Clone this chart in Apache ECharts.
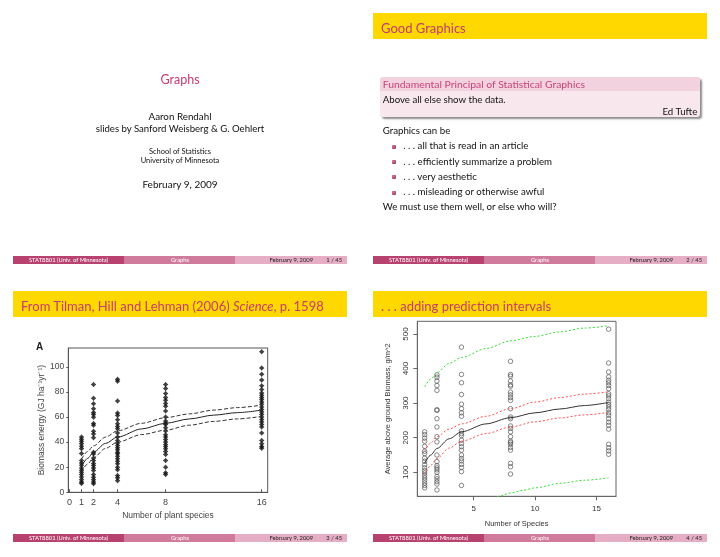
<!DOCTYPE html>
<html><head><meta charset="utf-8">
<script src="https://cdn.jsdelivr.net/npm/echarts@6/dist/echarts.min.js"></script>
<style>
html,body{margin:0;padding:0;background:#fff;}
#wrap{position:relative;width:720px;height:557px;overflow:hidden;font-family:Lato,'Noto Sans',sans-serif;}
.r{position:absolute;}
.t{position:absolute;white-space:nowrap;line-height:1;z-index:3;}
#chart{position:absolute;left:0;top:0;width:720px;height:557px;z-index:2;}
</style></head><body>
<div id="wrap"><div id="chart"></div></div>
<script>
// ---------- Slide 3: Tilman, Hill and Lehman (2006) ----------
const s3Species = [1, 2, 4, 8, 16];
const s3TickX = [0, 1, 2, 4, 8, 16];
const s3TickY = [0, 20, 40, 60, 80, 100];
const s3Y1  = [44, 42.3, 40.7, 38.8, 36.7, 34.8, 31, 25.3, 23.4, 21.5, 19.4, 17.6, 16, 14.1, 12.2, 10.1, 8.2, 7];
const s3Y2  = [85.9, 75, 70.5, 66.5, 63.5, 62, 59.8, 54.8, 53.5, 48.7, 46.5, 43.4, 32, 30.5, 27.4, 25.3, 23, 21.3, 19.4, 17.3, 14.1, 12, 10.1, 8.2, 6.8];
const s3Y4  = [90, 88.5, 72.8, 63.2, 61.3, 57.9, 54.7, 52.5, 50.7, 47.2, 44, 41.3, 39.2, 37.3, 35.5, 33.9, 32, 30.7, 28.8, 26.7, 24.8, 22.7, 20, 17.9, 13.3, 11.5, 9.3];
const s3Y8  = [85.9, 82.7, 78.7, 75.5, 73.3, 70.7, 68.5, 64.8, 60, 56.8, 55.2, 54.1, 51.5, 48.8, 45.9, 44, 42.1, 40, 38.1, 36.5, 34.7, 32.5, 30.1, 25.3, 20, 15.5, 14.2];
const s3Y16 = [112, 99, 94, 89.4, 85, 82, 79.2, 77.3, 75.5, 73.9, 72, 70.1, 68, 65.9, 64, 62.1, 60, 58.1, 56, 54.1, 52, 47.2, 41.3, 38.7, 36.5, 35.2];
const s3CurveX = [1, 1.5, 2, 3, 4, 6, 8, 10, 12, 14, 16];
const s3Fit    = [20.5, 27, 32, 39, 44, 50.5, 55, 58.5, 61.5, 63.5, 65.5];
const s3Upper  = [26.5, 32.5, 37, 44, 49, 55, 59.5, 62.5, 65.5, 67.5, 69.5];
const s3Lower  = [16, 22.5, 27.5, 35, 40, 46, 49.5, 53.5, 56.5, 58.5, 60.5];

// ---------- Slide 4: adding prediction intervals ----------
const s4Species = [1, 2, 4, 8, 16];
const s4TickX = [5, 10, 15];
const s4TickY = [100, 200, 300, 400, 500];
const s4Y1  = [217, 209, 199, 190, 175, 161, 154, 141, 132, 122, 113, 105, 98, 91, 84, 77, 69, 62, 55];
const s4Y2  = [382, 375, 364, 351, 337, 281, 279, 255, 231, 203, 188, 150, 131, 119, 113, 107, 100, 88, 81, 73, 66, 49];
const s4Y4  = [462, 383, 359, 325, 297, 284, 272, 262, 220, 212, 206, 193, 183, 174, 164, 150, 140, 133, 123, 114, 102, 62];
const s4Y8  = [421, 383, 378, 364, 353, 349, 332, 324, 316, 308, 284, 260, 255, 234, 227, 217, 203, 190, 186, 181, 172, 164, 126, 116, 95];
const s4Y16 = [514, 416, 390, 376, 366, 359, 351, 342, 327, 321, 313, 303, 296, 289, 282, 272, 265, 255, 245, 236, 225, 181, 171, 162, 152];
const s4CurveX = [1, 1.5, 2, 3, 4, 6, 8, 10, 12, 14, 16];
const s4Fit     = [126, 150, 169, 197, 217, 240, 258, 272, 283, 293, 302];
const s4PredUp  = [160, 185, 203, 225, 240, 262, 284, 303, 316, 326, 333];
const s4PredLo  = [92, 120, 140, 170, 190, 212, 231, 246, 257, 266, 273];
const s4WideUp  = [347, 370, 388, 415, 432, 458, 480, 493, 506, 517, 524];
const s4WideLoX = [6, 7, 8, 9, 10, 12, 14, 16];
const s4WideLo  = [17, 30, 40, 48, 55, 68, 77, 84];

// ---------- slide chrome ----------
const wrap = document.getElementById('wrap');
function box(x, y, w, h, css) {
  const d = document.createElement('div'); d.className = 'r';
  Object.assign(d.style, {left: x + 'px', top: y + 'px', width: w + 'px', height: h + 'px'}, css);
  wrap.appendChild(d); return d;
}
function txt(s, x, y, size, color, align, css) {
  const d = document.createElement('div'); d.className = 't'; d.innerHTML = s;
  Object.assign(d.style, {left: x + 'px', top: y + 'px', fontSize: size + 'px', color: color,
    transform: align === 'c' ? 'translate(-50%,-50%)' : align === 'r' ? 'translate(-100%,-50%)' : 'translateY(-50%)'}, css || {});
  wrap.appendChild(d); return d;
}
const PINK = '#c73a72';
function footer(ox, oy, n) {
  box(ox + 13, oy + 256, 111, 8, {background: '#b8426f'});
  box(ox + 124, oy + 256, 111, 8, {background: '#d07b9c'});
  box(ox + 235, oy + 256, 112, 8, {background: '#e5aec4'});
  txt('STAT8801 (Univ. of Minnesota)', ox + 68.5, oy + 260, 5.8, '#fff', 'c');
  txt('Graphs', ox + 180, oy + 260, 5.8, '#fff', 'c');
  txt('February 9, 2009', ox + 313, oy + 260, 5.8, '#222', 'r');
  txt(n + ' / 45', ox + 342, oy + 260, 5.8, '#222', 'r');
}
function header(ox, oy, s) {
  box(ox + 13, oy + 13, 334, 26, {background: '#ffd800'});
  txt(s, ox + 21, oy + 28, 13, PINK, 'l');
}
// slide 1
txt('Graphs', 180, 80, 12.5, PINK, 'c');
txt('Aaron Rendahl', 180, 117, 9.8, '#111', 'c');
txt('slides by Sanford Weisberg &amp; G. Oehlert', 180, 128.5, 9.6, '#111', 'c');
txt('School of Statistics', 180, 152.3, 7.5, '#111', 'c');
txt('University of Minnesota', 180, 161.3, 7.5, '#111', 'c');
txt('February 9, 2009', 180, 184, 10, '#111', 'c');
footer(0, 0, 1);
// slide 2
header(360, 0, 'Good Graphics');
box(380, 77, 320, 40, {borderRadius: '3px', boxShadow: '2px 2px 2px rgba(0,0,0,0.45)', background: '#f8e8ee'});
box(380, 77, 320, 14, {borderRadius: '3px 3px 0 0', background: '#f1d2de'});
txt('Fundamental Principal of Statistical Graphics', 382.7, 83.8, 10.4, '#c9437b', 'l');
txt('Above all else show the data.', 382.7, 99.5, 9.7, '#111', 'l');
txt('Ed Tufte', 697.3, 111.5, 9.7, '#111', 'r');
txt('Graphics can be', 382.7, 131, 9.7, '#111', 'l');
const items = ['. . . all that is read in an article', '. . . efficiently summarize a problem', '. . . very aesthetic', '. . . misleading or otherwise awful'];
const itemY = [146, 161.7, 176.7, 192];
items.forEach((s, i) => {
  box(392.3, itemY[i] - 1.5, 4, 4, {background: 'radial-gradient(circle at 35% 35%, #d77aa0, #8e2450)', borderRadius: '1px'});
  txt(s, 403.3, itemY[i], 9.7, '#111', 'l');
});
txt('We must use them well, or else who will?', 382.7, 207, 9.7, '#111', 'l');
footer(360, 0, 2);
// slide 3
header(0, 278, 'From Tilman, Hill and Lehman (2006) <i>Science</i>, p. 1598');
footer(0, 278, 3);
// slide 4
header(360, 278, '. . . adding prediction intervals');
footer(360, 278, 4);

// ---------- charts ----------
function pts(xs, cols) { const out = []; cols.forEach((c, i) => c.forEach(v => out.push([xs[i], v]))); return out; }
function zip(xs, ys) { return xs.map((x, i) => [x, ys[i]]); }
const FF = 'Liberation Sans';
const star = 'path://M0,-5 L2.3,-2.3 L5,0 L2.3,2.3 L0,5 L-2.3,2.3 L-5,0 L-2.3,-2.3 Z';
const chart = echarts.init(document.getElementById('chart'), null, {renderer: 'canvas'});
function lineS(ax, data, color, type, width) {
  return {type: 'line', xAxisIndex: ax, yAxisIndex: ax, data: data, symbol: 'none', showSymbol: false,
    smooth: 0.3, smoothMonotone: 'x', silent: true, clip: true, z: 3,
    lineStyle: {color: color, width: width || 1, type: type}};
}
chart.setOption({
  animation: false,
  grid: [
    {left: 68.3, top: 348, width: 199.4, height: 144.3, show: true, borderColor: '#555', borderWidth: 1},
    {left: 417.3, top: 321.3, width: 198.7, height: 175, show: true, borderColor: '#666', borderWidth: 1}
  ],
  graphic: [{type: 'text', left: 36, top: 342.5, style: {text: 'A', font: 'bold 10px "Liberation Sans"', fill: '#222'}}],
  xAxis: [
    {gridIndex: 0, type: 'value', min: -0.1, max: 16.5, splitLine: {show: false},
     axisLine: {show: true, onZero: false, lineStyle: {color: '#555'}},
     axisTick: {show: true, inside: true, length: 3, customValues: s3TickX, lineStyle: {color: '#555'}},
     axisLabel: {customValues: s3TickX, fontSize: 9, color: '#444', margin: 6, fontFamily: FF},
     name: 'Number of plant species', nameLocation: 'middle', nameGap: 19,
     nameTextStyle: {fontSize: 8.5, color: '#444', fontFamily: FF}},
    {gridIndex: 1, type: 'value', min: 0.4, max: 16.6, splitLine: {show: false},
     axisLine: {show: true, onZero: false, lineStyle: {color: '#666'}},
     axisTick: {show: true, inside: false, length: 4, customValues: s4TickX, lineStyle: {color: '#666'}},
     axisLabel: {customValues: s4TickX, fontSize: 8, color: '#333', margin: 8, fontFamily: FF},
     name: 'Number of Species', nameLocation: 'middle', nameGap: 24,
     nameTextStyle: {fontSize: 7.5, color: '#333', fontFamily: FF}}
  ],
  yAxis: [
    {gridIndex: 0, type: 'value', min: 0, max: 115, splitLine: {show: false},
     axisLine: {show: true, onZero: false, lineStyle: {color: '#555'}},
     axisTick: {show: true, inside: false, length: 2, customValues: s3TickY, lineStyle: {color: '#555'}},
     axisLabel: {customValues: s3TickY, fontSize: 8.5, color: '#444', margin: 4, fontFamily: FF},
     name: 'Biomass energy (GJ ha\u207B\u00B9yr\u207B\u00B9)', nameLocation: 'middle', nameGap: 20,
     nameTextStyle: {fontSize: 8.5, color: '#444', fontFamily: FF}},
    {gridIndex: 1, type: 'value', min: 30.6, max: 536.7, splitLine: {show: false},
     axisLine: {show: true, onZero: false, lineStyle: {color: '#666'}},
     axisTick: {show: true, inside: false, length: 4, customValues: s4TickY, lineStyle: {color: '#666'}},
     axisLabel: {customValues: s4TickY, fontSize: 8, color: '#333', margin: 8, rotate: 90, fontFamily: FF},
     name: 'Average above ground Biomass, g/m^2', nameLocation: 'middle', nameGap: 25,
     nameTextStyle: {fontSize: 7.5, color: '#333', fontFamily: FF}}
  ],
  series: [
    {type: 'scatter', xAxisIndex: 0, yAxisIndex: 0, data: pts(s3Species, [s3Y1, s3Y2, s3Y4, s3Y8, s3Y16]),
     symbol: star, symbolSize: 5.5, itemStyle: {color: '#111'}, silent: true, z: 2},
    lineS(0, zip(s3CurveX, s3Fit), '#222', 'solid', 1),
    lineS(0, zip(s3CurveX, s3Upper), '#333', [4, 2], 1),
    lineS(0, zip(s3CurveX, s3Lower), '#333', [4, 2], 1),
    {type: 'scatter', xAxisIndex: 1, yAxisIndex: 1, data: pts(s4Species, [s4Y1, s4Y2, s4Y4, s4Y8, s4Y16]),
     symbol: 'circle', symbolSize: 4.5, itemStyle: {color: 'rgba(0,0,0,0)', borderColor: '#444', borderWidth: 0.8}, silent: true, z: 2},
    lineS(1, zip(s4CurveX, s4Fit), '#333', 'solid', 1),
    lineS(1, zip(s4CurveX, s4PredUp), '#ff5050', [2, 2], 1),
    lineS(1, zip(s4CurveX, s4PredLo), '#ff5050', [2, 2], 1),
    lineS(1, zip(s4CurveX, s4WideUp), '#33e033', [2, 2], 1),
    lineS(1, zip(s4WideLoX, s4WideLo), '#33e033', [2, 2], 1)
  ]
});
</script>
</body></html>
